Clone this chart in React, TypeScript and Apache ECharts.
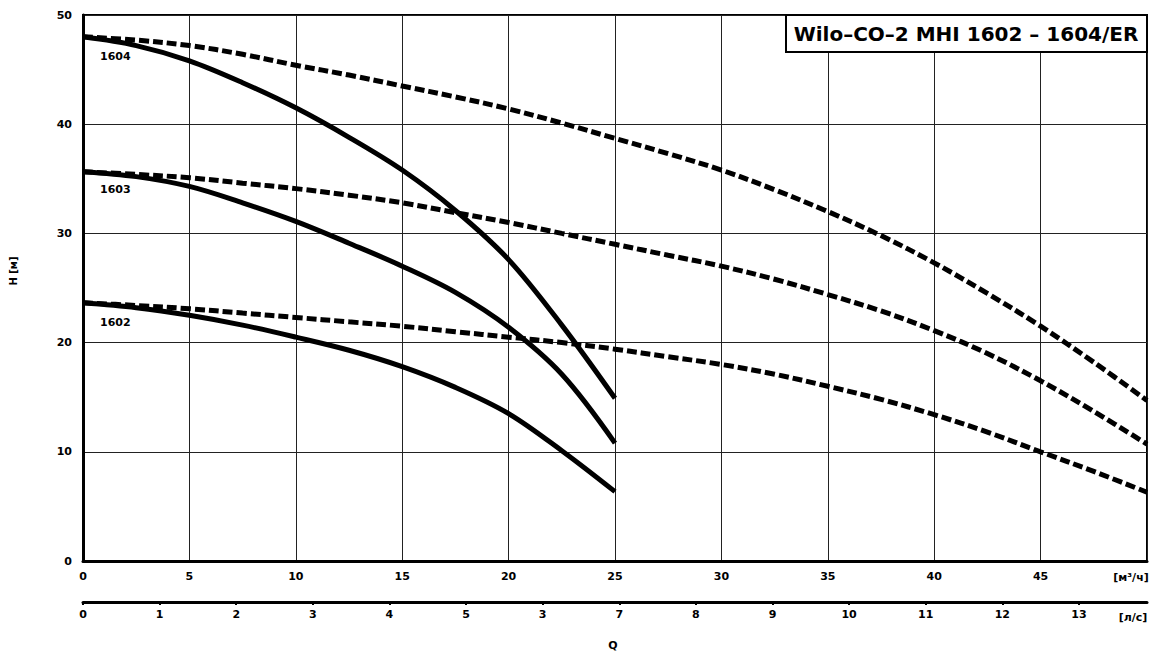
import React, { useEffect, useRef } from "react";
import * as echarts from "echarts";

const qSingle = [0, 2.5, 5, 7.5, 10, 12.5, 15, 17.5, 20, 22.5, 25];
const h1604Single = [48.0, 47.2, 45.8, 43.8, 41.5, 38.8, 35.8, 32.1, 27.6, 21.6, 14.9];
const h1603Single = [35.65, 35.2, 34.3, 32.8, 31.1, 29.1, 27.0, 24.6, 21.4, 17.1, 10.8];
const h1602Single = [23.65, 23.2, 22.5, 21.6, 20.5, 19.3, 17.8, 15.9, 13.5, 10.1, 6.35];

const qDouble = [0, 2.5, 5, 7.5, 10, 12.5, 15, 17.5, 20, 22.5, 25, 27.5, 30, 32.5, 35, 37.5, 40, 42.5, 45, 47.5, 50];
const h1604Double = [48.0, 47.7, 47.2, 46.4, 45.4, 44.5, 43.5, 42.5, 41.4, 40.1, 38.7, 37.3, 35.8, 34.0, 32.0, 29.8, 27.3, 24.5, 21.5, 18.2, 14.7];
const h1603Double = [35.65, 35.4, 35.1, 34.6, 34.1, 33.5, 32.8, 31.9, 31.0, 30.0, 29.0, 28.0, 27.0, 25.8, 24.4, 22.9, 21.1, 19.0, 16.5, 13.7, 10.7];
const h1602Double = [23.65, 23.4, 23.1, 22.7, 22.3, 21.9, 21.5, 21.0, 20.5, 20.0, 19.4, 18.7, 18.0, 17.1, 16.0, 14.8, 13.4, 11.8, 10.0, 8.2, 6.3];

const flowTicks = ["0", "5", "10", "15", "20", "25", "30", "35", "40", "45"];
const litreTicks = ["0", "1", "2", "3", "4", "5", "3", "7", "8", "9", "10", "11", "12", "13"];
const headTicks = ["0", "10", "20", "30", "40", "50"];
const curveNames = ["1604", "1603", "1602"];

const titleText = "Wilo–CO–2 MHI 1602 – 1604/ER";

const FONT = "DejaVu Sans";

export default function App() {
  const ref = useRef<HTMLDivElement>(null);
  useEffect(() => {
    if (!ref.current) return;
    const chart = echarts.init(ref.current, null, { renderer: "svg" });
    const pair = (qs: number[], hs: number[]) => qs.map((q, i) => [q, hs[i]]);
    const lbl = { fontFamily: FONT, fontWeight: "bold" as const, fontSize: 11, color: "#000" };
    const solid = (name: string, hs: number[]) => ({
      type: "line", name, data: pair(qSingle, hs), smooth: 0.35, symbol: "none",
      xAxisIndex: 0, yAxisIndex: 0,
      lineStyle: { color: "#000", width: 5, cap: "butt" },
    });
    const dashed = (name: string, hs: number[]) => ({
      type: "line", name, data: pair(qDouble, hs), smooth: 0.35, symbol: "none",
      xAxisIndex: 0, yAxisIndex: 0,
      lineStyle: { color: "#000", width: 5, type: [10, 4] },
    });
    const option: any = {
      animation: false,
      grid: { left: 83, right: 3, top: 15, bottom: 91, show: true, borderColor: "#000", borderWidth: 2, backgroundColor: "#fff" },
      xAxis: [
        {
          type: "value", min: 0, max: 50, interval: 5, position: "bottom",
          axisLine: { show: true, onZero: false, lineStyle: { color: "#000", width: 3 } },
          axisTick: { show: false },
          splitLine: { show: true, lineStyle: { color: "#222", width: 1 } },
          axisLabel: {
            ...lbl, margin: 10, showMaxLabel: false,
            formatter: (v: number) => { const i = Math.round(v / 5); return Math.abs(v - i * 5) < 1e-6 && i < flowTicks.length ? flowTicks[i] : ""; },
          },
        },
        {
          type: "value", min: 0, max: 50 / 3.6, interval: 1, position: "bottom", offset: 41,
          axisLine: { show: true, onZero: false, lineStyle: { color: "#000", width: 3 } },
          axisTick: { show: true, length: 3, lineStyle: { color: "#000", width: 2 } },
          splitLine: { show: false },
          axisLabel: {
            ...lbl, margin: 7, showMaxLabel: false,
            formatter: (v: number) => { const i = Math.round(v); return Math.abs(v - i) < 1e-6 && i < litreTicks.length ? litreTicks[i] : ""; },
          },
        },
      ],
      yAxis: {
        type: "value", min: 0, max: 50, interval: 10,
        axisLine: { show: true, onZero: false, lineStyle: { color: "#000", width: 3 } },
        axisTick: { show: false },
        splitLine: { show: true, lineStyle: { color: "#222", width: 1 } },
        axisLabel: {
          ...lbl, margin: 11,
          formatter: (v: number) => { const i = Math.round(v / 10); return headTicks[i] ?? ""; },
        },
      },
      series: [
        dashed("1604 x2", h1604Double),
        dashed("1603 x2", h1603Double),
        dashed("1602 x2", h1602Double),
        solid("1604", h1604Single),
        solid("1603", h1603Single),
        solid("1602", h1602Single),
      ],
      graphic: [
        { type: "rect", shape: { x: 786, y: 15, width: 361, height: 37 }, style: { fill: "#fff", stroke: "#000", lineWidth: 2 }, z: 100 },
        { type: "text", x: 966, y: 34, style: { text: titleText, font: `bold 20px "${FONT}"`, fill: "#000", align: "center", verticalAlign: "middle" }, z: 101 },
        { type: "text", x: 100, y: 56, style: { text: curveNames[0], font: `bold 11px "${FONT}"`, fill: "#000", verticalAlign: "middle" }, z: 101 },
        { type: "text", x: 100, y: 189, style: { text: curveNames[1], font: `bold 11px "${FONT}"`, fill: "#000", verticalAlign: "middle" }, z: 101 },
        { type: "text", x: 100, y: 322, style: { text: curveNames[2], font: `bold 11px "${FONT}"`, fill: "#000", verticalAlign: "middle" }, z: 101 },
        { type: "text", x: 1131, y: 577, style: { text: "[м³/ч]", font: `bold 11px "${FONT}"`, fill: "#000", align: "center", verticalAlign: "middle" }, z: 101 },
        { type: "text", x: 1133, y: 617, style: { text: "[л/с]", font: `bold 11px "${FONT}"`, fill: "#000", align: "center", verticalAlign: "middle" }, z: 101 },
        { type: "text", x: 613, y: 645, style: { text: "Q", font: `bold 11px "${FONT}"`, fill: "#000", align: "center", verticalAlign: "middle" }, z: 101 },
        { type: "text", x: 13, y: 271, rotation: Math.PI / 2, style: { text: "H [м]", font: `bold 10px "${FONT}"`, fill: "#000", align: "center", verticalAlign: "middle" }, z: 101 },
      ],
    };
    chart.setOption(option);
    return () => chart.dispose();
  }, []);
  return <div ref={ref} style={{ position: "fixed", left: 0, top: 0, width: 1150, height: 652, background: "#fff" }} />;
}
